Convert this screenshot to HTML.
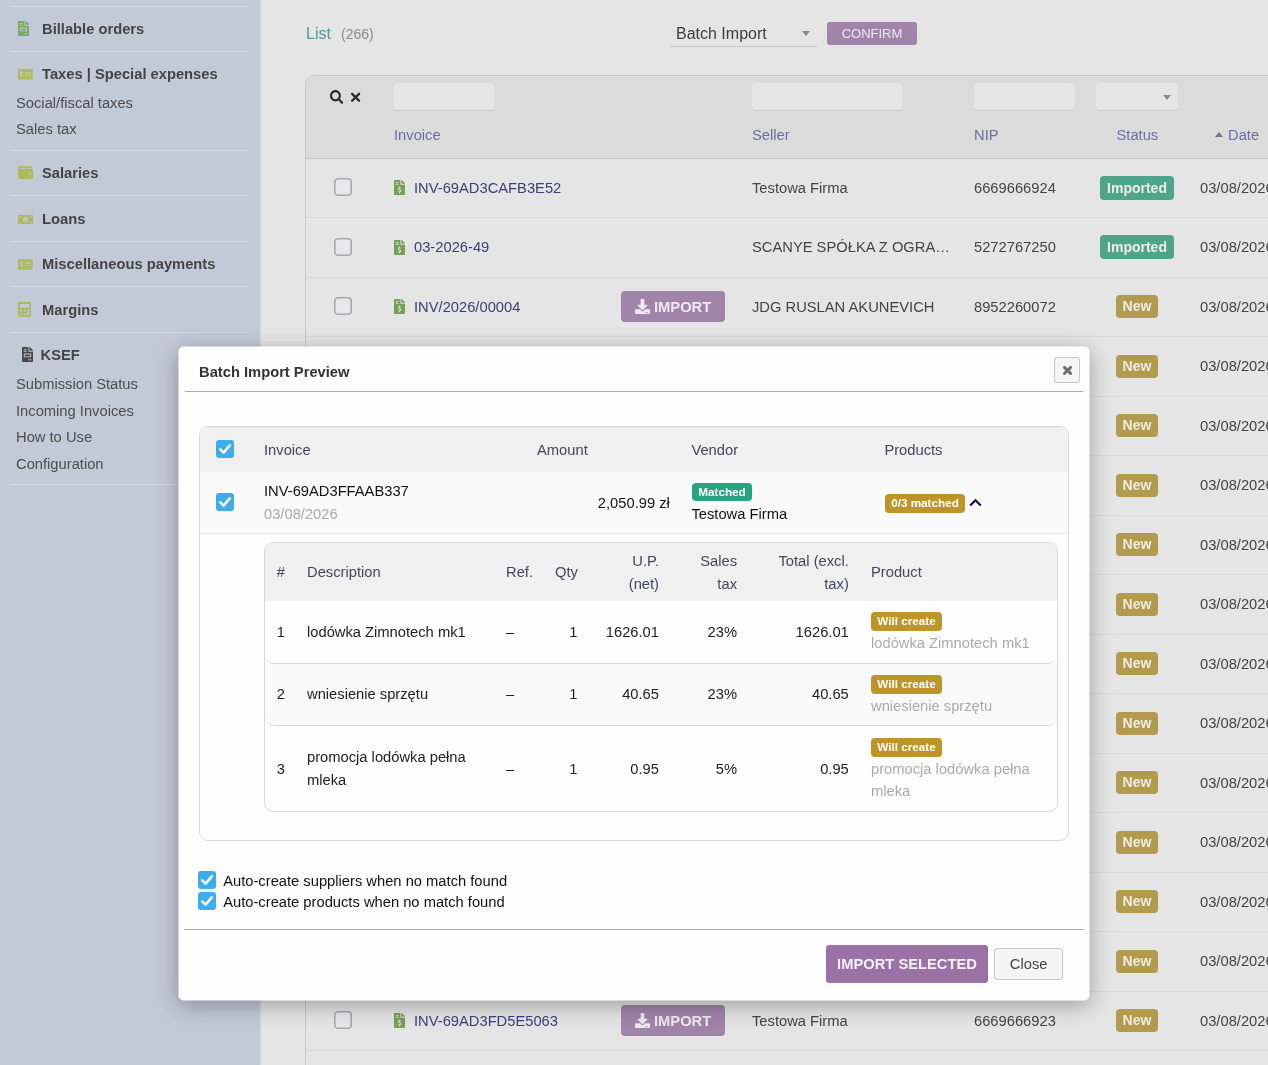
<!DOCTYPE html>
<html>
<head>
<meta charset="utf-8">
<title>Batch Import Preview</title>
<style>
*{box-sizing:border-box;margin:0;padding:0}
html,body{width:1268px;height:1065px;overflow:hidden}
body{font-family:"Liberation Sans",sans-serif;font-size:14.72px;color:#444;background:#e5e5e5;position:relative}
.abs{position:absolute}
#wrap{position:absolute;left:0;top:0;width:1268px;height:1065px;overflow:hidden;will-change:transform}
#side{position:absolute;left:0;top:0;width:260px;height:1065px;background:#c3cad7;box-shadow:1px 0 2px rgba(0,0,0,.08)}
#side .hr{position:absolute;left:10px;width:238px;height:1px;background:#d6d8dc}
#side .h{position:absolute;left:42px;font-weight:bold;color:#444;line-height:20px;white-space:nowrap}
#side .s{position:absolute;left:16px;color:#4d4d4d;line-height:20px;white-space:nowrap}
.t{position:absolute;white-space:nowrap;line-height:20px}
#tbl{position:absolute;left:305px;top:75px;width:1000px;height:1000px;border:1px solid #c9c9c9;border-radius:9px 0 0 0;background:#e5e5e5;overflow:hidden}
#thead{position:absolute;left:0;top:0;width:100%;height:83px;background:#dbdbdb;border-bottom:1px solid #c6c6c6}
.fin{position:absolute;top:7px;height:27px;background:#e5e5e5;border-radius:4px;box-shadow:0 1px 0 rgba(0,0,0,.06)}
.row{position:absolute;left:0;width:100%;height:59.5px;border-bottom:1px solid #dadada}
.cb{position:absolute;left:28px;top:19.5px;width:18px;height:18px}
.lnk{color:#3b4178}
.hl{color:#6c6fa3}
.badge{position:absolute;height:24px;line-height:24px;border-radius:4px;color:#efece6;font-weight:bold;font-size:14px;text-align:center}
.b-imp{background:#4fa58a;left:794px;width:74px}
.b-new{background:#b39b4e;left:810px;width:42px}
.ibtn{position:absolute;left:315px;top:13.5px;width:104px;height:31px;border-radius:4px;background:#a084a9;color:#efeaf1;font-weight:bold;line-height:33px}
/* modal */
#modal{position:absolute;left:179px;top:347px;width:910px;height:653px;color:#222}
#mbg{position:absolute;left:-1px;top:-1px;width:911px;height:654px;background:#fefefe;border-radius:5px;box-shadow:0 5px 22px rgba(0,0,0,.30);transform:translate(.5px,.5px)}
#modal .t{line-height:23px}
.mh{color:#454560}
.ck{position:absolute;width:18px;height:18px;border-radius:3px;background:#3daee9}
.ck svg{position:absolute;left:0;top:0}
.mb{position:absolute;border-radius:4px;color:#fff;font-weight:bold;font-size:11.73px;text-align:center;white-space:nowrap}
.wc{width:71px;height:19px;line-height:17.500px;background:#bd9529}
.nrow{position:absolute;left:0;width:792px;border-bottom:1px solid #d8d8d8;border-radius:0 0 9px 9px}
.g{color:#aaa}
.r{text-align:right}
</style>
</head>
<body>
<div id="wrap">
<div id="side">
<div class="hr" style="top:6px"></div>
<div class="hr" style="top:51px"></div>
<div class="hr" style="top:150px"></div>
<div class="hr" style="top:195px"></div>
<div class="hr" style="top:241px"></div>
<div class="hr" style="top:286px"></div>
<div class="hr" style="top:332px"></div>
<div class="hr" style="top:484px"></div>
<svg class="abs" style="left:18px;top:21px" width="11" height="15" viewBox="0 0 384 512" fill="#7ba862" preserveAspectRatio="none"><path fill-rule="evenodd" d="M288 256H96v64h192v-64zm89-151L279.1 7c-4.500-4.500-10.600-7-17-7H256v128h128v-6.100c0-6.300-2.500-12.400-7-16.900zm-153 31V0H24C10.700 0 0 10.700 0 24v464c0 13.300 10.700 24 24 24h336c13.300 0 24-10.700 24-24V160H248c-13.200 0-24-10.800-24-24zM64 72c0-4.420 3.580-8 8-8h80c4.420 0 8 3.580 8 8v16c0 4.420-3.580 8-8 8H72c-4.420 0-8-3.580-8-8V72zm0 64c0-4.420 3.580-8 8-8h80c4.420 0 8 3.580 8 8v16c0 4.420-3.580 8-8 8H72c-4.420 0-8-3.580-8-8v-16zm256 304c0 4.420-3.580 8-8 8h-80c-4.420 0-8-3.580-8-8v-16c0-4.420 3.580-8 8-8h80c4.420 0 8 3.580 8 8v16zm0-200v96c0 8.840-7.160 16-16 16H80c-8.840 0-16-7.160-16-16v-96c0-8.840 7.160-16 16-16h224c8.840 0 16 7.160 16 16z"/></svg>
<div class="h" style="top:19px">Billable orders</div>
<svg class="abs" style="left:18px;top:69.4px" width="14.7" height="10.6" viewBox="0 64 640 384" fill="#afb95e" preserveAspectRatio="none"><rect x="0" y="64" width="640" height="384" rx="26" ry="26"/><g fill="#c7cdd6"><rect x="292" y="196" width="274" height="34"/><rect x="292" y="280" width="118" height="32"/><rect x="466" y="280" width="100" height="32"/><path d="M131 140h28v26c18 3 33 11 44 22l-20 22c-9-9-21-14-35-14-16 0-26 7-26 17 0 27 88 13 88 72 0 27-20 45-51 50v27h-28v-27c-24-3-42-12-56-27l21-22c12 12 27 19 46 19 18 0 30-7 30-19 0-30-88-15-88-72 0-26 19-43 47-48z"/></g></svg>
<div class="h" style="top:64px">Taxes | Special expenses</div>
<div class="s" style="top:93px">Social/fiscal taxes</div>
<div class="s" style="top:119px">Sales tax</div>
<svg class="abs" style="left:18px;top:166px" width="15" height="13" viewBox="0 32 512 448" fill="#afb95e" preserveAspectRatio="none"><path fill-rule="evenodd" d="M461.2 128H80c-8.840 0-16-7.160-16-16s7.160-16 16-16h384c8.840 0 16-7.160 16-16 0-26.510-21.490-48-48-48H64C28.650 32 0 60.650 0 96v320c0 35.350 28.650 64 64 64h397.200c28.020 0 50.800-21.530 50.800-48V176c0-26.470-22.780-48-50.800-48zM416 336c-17.670 0-32-14.330-32-32s14.330-32 32-32 32 14.330 32 32-14.330 32-32 32z"/></svg>
<div class="h" style="top:163px">Salaries</div>
<svg class="abs" style="left:18px;top:214.8px" width="15" height="9.3" viewBox="0 64 640 384" fill="#afb95e" preserveAspectRatio="none"><path fill-rule="evenodd" d="M24 64h592a24 24 0 0 1 24 24v336a24 24 0 0 1-24 24H24a24 24 0 0 1-24-24V88a24 24 0 0 1 24-24zM48 112v64a64 64 0 0 0 64-64zM592 112h-64a64 64 0 0 0 64 64zM48 400h64a64 64 0 0 0-64-64zM592 400v-64a64 64 0 0 0-64 64zM320 148a112 108 0 1 0 .1 0zM300 200h36v96h20v24h-72v-24h20v-60h-16z"/></svg>
<div class="h" style="top:209px">Loans</div>
<svg class="abs" style="left:18px;top:259.3px" width="14.7" height="10.7" viewBox="0 64 640 384" fill="#afb95e" preserveAspectRatio="none"><rect x="0" y="64" width="640" height="384" rx="26" ry="26"/><g fill="#c7cdd6"><rect x="292" y="196" width="274" height="34"/><rect x="292" y="280" width="118" height="32"/><rect x="466" y="280" width="100" height="32"/><path d="M131 140h28v26c18 3 33 11 44 22l-20 22c-9-9-21-14-35-14-16 0-26 7-26 17 0 27 88 13 88 72 0 27-20 45-51 50v27h-28v-27c-24-3-42-12-56-27l21-22c12 12 27 19 46 19 18 0 30-7 30-19 0-30-88-15-88-72 0-26 19-43 47-48z"/></g></svg>
<div class="h" style="top:254px">Miscellaneous payments</div>
<svg class="abs" style="left:18px;top:302px" width="13" height="15" viewBox="0 0 448 512" fill="#afb95e" preserveAspectRatio="none"><path fill-rule="evenodd" d="M400 0H48C22.400 0 0 22.400 0 48v416c0 25.600 22.400 48 48 48h352c25.600 0 48-22.400 48-48V48c0-25.600-22.400-48-48-48zM128 435.200c0 6.400-6.400 12.800-12.800 12.800H76.800c-6.400 0-12.800-6.400-12.800-12.800v-38.400c0-6.400 6.400-12.800 12.800-12.800h38.400c6.400 0 12.800 6.400 12.800 12.800v38.400zm0-128c0 6.400-6.400 12.800-12.800 12.800H76.800c-6.400 0-12.800-6.400-12.800-12.800v-38.400c0-6.400 6.400-12.800 12.800-12.800h38.400c6.400 0 12.800 6.400 12.800 12.800v38.400zm128 128c0 6.400-6.400 12.800-12.800 12.800h-38.400c-6.400 0-12.800-6.400-12.800-12.800v-38.400c0-6.400 6.400-12.800 12.800-12.800h38.400c6.400 0 12.800 6.400 12.800 12.800v38.400zm0-128c0 6.400-6.400 12.800-12.800 12.800h-38.400c-6.400 0-12.800-6.400-12.800-12.800v-38.400c0-6.400 6.400-12.800 12.800-12.800h38.400c6.400 0 12.800 6.400 12.800 12.800v38.400zm128 128c0 6.400-6.400 12.800-12.800 12.800h-38.400c-6.400 0-12.800-6.400-12.800-12.800V268.800c0-6.400 6.400-12.800 12.800-12.800h38.400c6.400 0 12.800 6.400 12.800 12.800v166.400zm0-256c0 6.400-6.400 12.800-12.800 12.800H76.800c-6.400 0-12.800-6.400-12.800-12.800V76.800C64 70.400 70.400 64 76.800 64h294.400c6.400 0 12.800 6.400 12.800 12.800v102.400z"/></svg>
<div class="h" style="top:300px">Margins</div>
<svg class="abs" style="left:22px;top:347px" width="11" height="15" viewBox="0 0 384 512" fill="#4a4a4a" preserveAspectRatio="none"><path fill-rule="evenodd" d="M288 256H96v64h192v-64zm89-151L279.1 7c-4.500-4.500-10.600-7-17-7H256v128h128v-6.100c0-6.300-2.500-12.400-7-16.900zm-153 31V0H24C10.700 0 0 10.700 0 24v464c0 13.300 10.700 24 24 24h336c13.300 0 24-10.700 24-24V160H248c-13.200 0-24-10.800-24-24zM64 72c0-4.420 3.580-8 8-8h80c4.420 0 8 3.580 8 8v16c0 4.420-3.580 8-8 8H72c-4.420 0-8-3.580-8-8V72zm0 64c0-4.420 3.580-8 8-8h80c4.420 0 8 3.580 8 8v16c0 4.420-3.580 8-8 8H72c-4.420 0-8-3.580-8-8v-16zm256 304c0 4.420-3.580 8-8 8h-80c-4.420 0-8-3.580-8-8v-16c0-4.420 3.580-8 8-8h80c4.420 0 8 3.580 8 8v16zm0-200v96c0 8.840-7.160 16-16 16H80c-8.840 0-16-7.160-16-16v-96c0-8.840 7.160-16 16-16h224c8.840 0 16 7.160 16 16z"/></svg>
<div class="h" style="top:345px;left:40.5px">KSEF</div>
<div class="s" style="top:374px">Submission Status</div>
<div class="s" style="top:401px">Incoming Invoices</div>
<div class="s" style="top:427px">How to Use</div>
<div class="s" style="top:454px">Configuration</div>
</div>
<div class="t" style="left:306px;top:24px;font-size:16px;color:#4f9a9e">List</div>
<div class="t" style="left:341px;top:24px;font-size:14px;color:#8a8a8a">(266)</div>
<div class="abs" style="left:670px;top:20px;width:147px;height:27px;border-bottom:1px solid #c9c9c9"></div>
<div class="t" style="left:676px;top:24px;font-size:16px;color:#3c3c3c">Batch Import</div>
<div class="abs" style="left:802px;top:31px;width:0;height:0;border-left:4px solid transparent;border-right:4px solid transparent;border-top:5px solid #8a8a8a"></div>
<div class="abs" style="left:827px;top:22px;width:90px;height:23px;border-radius:3px;background:#a084a9;color:#ece6ee;font-size:13px;line-height:23px;text-align:center">CONFIRM</div>
<div id="tbl"><div id="thead">
<svg class="abs" style="left:23.69999999999999px;top:13.799999999999997px" width="13.4" height="14" viewBox="0 0 512 512" fill="#2b2b2b" preserveAspectRatio="none"><path d="M505 442.700L405.300 343c-4.500-4.500-10.600-7-17-7H372c27.600-35.300 44-79.700 44-128C416 93.100 322.900 0 208 0S0 93.100 0 208s93.100 208 208 208c48.300 0 92.700-16.400 128-44v16.300c0 6.400 2.500 12.500 7 17l99.700 99.700c9.400 9.400 24.600 9.400 33.900 0l28.300-28.300c9.400-9.400 9.400-24.600.1-34zM208 336c-70.700 0-128-57.200-128-128 0-70.700 57.200-128 128-128 70.700 0 128 57.200 128 128 0 70.700-57.200 128-128 128z"/></svg>
<svg class="abs" style="left:44px;top:15px" width="12" height="12" viewBox="0 0 12 12"><path d="M2.150 2.850L9.050 9.750M9.050 2.850L2.150 9.750" fill="none" stroke="#2b2b2b" stroke-width="2.400" stroke-linecap="round"/></svg>
<div class="fin" style="left:88px;width:100px"></div>
<div class="fin" style="left:446px;width:150px"></div>
<div class="fin" style="left:668px;width:100.5px"></div>
<div class="fin" style="left:790px;width:82px"></div>
<div class="abs" style="left:857px;top:19px;width:0;height:0;border-left:4px solid transparent;border-right:4px solid transparent;border-top:5px solid #8a8a8a"></div>
<div class="t hl" style="left:88px;top:49px">Invoice</div>
<div class="t hl" style="left:446px;top:49px">Seller</div>
<div class="t hl" style="left:668px;top:49px">NIP</div>
<div class="t hl" style="left:810.5px;top:49px">Status</div>
<div class="t hl" style="left:922px;top:49px">Date</div>
<div class="abs" style="left:909px;top:56px;width:0;height:0;border-left:4.500px solid transparent;border-right:4.500px solid transparent;border-bottom:5.500px solid #74748f"></div>
</div>
<div class="row" style="top:82.5px"><svg class="cb" viewBox="0 0 18 18"><rect x="0.800" y="0.800" width="16.400" height="16.400" rx="3.300" fill="#e8e8e8" stroke="#a7a7b5" stroke-width="1.600"/></svg><svg class="abs" style="left:88px;top:21.5px" width="11" height="15" viewBox="0 0 384 512" fill="#769f58" preserveAspectRatio="none"><path fill-rule="evenodd" d="M377 105L279.100 7c-4.500-4.500-10.600-7-17-7H256v128h128v-6.100c0-6.300-2.500-12.400-7-16.900zM224 136V0H24C10.700 0 0 10.700 0 24v464c0 13.300 10.700 24 24 24h336c13.300 0 24-10.700 24-24V160H248c-13.200 0-24-10.800-24-24zM64 72c0-4.420 3.580-8 8-8h80c4.420 0 8 3.580 8 8v16c0 4.420-3.580 8-8 8H72c-4.420 0-8-3.580-8-8V72zm0 80v-16c0-4.420 3.580-8 8-8h80c4.420 0 8 3.580 8 8v16c0 4.420-3.580 8-8 8H72c-4.420 0-8-3.580-8-8zm144 263.880V440c0 4.420-3.580 8-8 8h-16c-4.420 0-8-3.580-8-8v-24.290c-11.290-.580-22.270-4.520-31.370-11.350-3.900-2.930-4.100-8.770-.570-12.140l11.750-11.210c2.770-2.640 6.890-2.760 10.130-.730 3.870 2.420 8.260 3.720 12.820 3.720h28.110c6.500 0 11.800-5.920 11.800-13.190 0-5.950-3.610-11.190-8.770-12.730l-45-13.500c-18.590-5.580-31.580-23.420-31.580-43.390 0-24.520 19.050-44.440 42.670-45.070V232c0-4.420 3.580-8 8-8h16c4.420 0 8 3.580 8 8v24.290c11.290.580 22.270 4.510 31.370 11.350 3.900 2.930 4.100 8.770.570 12.140l-11.750 11.210c-2.770 2.640-6.890 2.760-10.130.730-3.870-2.430-8.260-3.720-12.820-3.720h-28.110c-6.500 0-11.800 5.920-11.800 13.190 0 5.950 3.610 11.190 8.770 12.730l45 13.500c18.590 5.580 31.580 23.420 31.580 43.390 0 24.530-19.050 44.440-42.670 45.070z"/></svg><div class="t lnk" style="left:108px;top:19px">INV-69AD3CAFB3E52</div><div class="t" style="left:446px;top:19px">Testowa Firma</div><div class="t" style="left:668px;top:19px">6669666924</div><div class="badge b-imp" style="top:17.250px">Imported</div><div class="t" style="left:894px;top:19px">03/08/2026</div></div>
<div class="row" style="top:142.0px"><svg class="cb" viewBox="0 0 18 18"><rect x="0.800" y="0.800" width="16.400" height="16.400" rx="3.300" fill="#e8e8e8" stroke="#a7a7b5" stroke-width="1.600"/></svg><svg class="abs" style="left:88px;top:21.5px" width="11" height="15" viewBox="0 0 384 512" fill="#769f58" preserveAspectRatio="none"><path fill-rule="evenodd" d="M377 105L279.100 7c-4.500-4.500-10.600-7-17-7H256v128h128v-6.100c0-6.300-2.500-12.400-7-16.900zM224 136V0H24C10.700 0 0 10.700 0 24v464c0 13.300 10.700 24 24 24h336c13.300 0 24-10.700 24-24V160H248c-13.200 0-24-10.800-24-24zM64 72c0-4.420 3.580-8 8-8h80c4.420 0 8 3.580 8 8v16c0 4.420-3.580 8-8 8H72c-4.420 0-8-3.580-8-8V72zm0 80v-16c0-4.420 3.580-8 8-8h80c4.420 0 8 3.580 8 8v16c0 4.420-3.580 8-8 8H72c-4.420 0-8-3.580-8-8zm144 263.880V440c0 4.420-3.580 8-8 8h-16c-4.420 0-8-3.580-8-8v-24.290c-11.290-.580-22.270-4.520-31.370-11.350-3.900-2.930-4.100-8.770-.570-12.140l11.750-11.210c2.770-2.640 6.890-2.760 10.130-.730 3.870 2.420 8.260 3.720 12.820 3.720h28.110c6.500 0 11.800-5.920 11.800-13.190 0-5.950-3.610-11.190-8.770-12.730l-45-13.500c-18.590-5.580-31.580-23.420-31.580-43.390 0-24.520 19.050-44.440 42.670-45.070V232c0-4.420 3.580-8 8-8h16c4.420 0 8 3.580 8 8v24.290c11.290.580 22.270 4.510 31.370 11.350 3.900 2.930 4.100 8.770.570 12.140l-11.750 11.210c-2.770 2.640-6.890 2.760-10.130.730-3.870-2.430-8.260-3.720-12.820-3.720h-28.110c-6.500 0-11.800 5.920-11.800 13.190 0 5.950 3.610 11.190 8.770 12.730l45 13.500c18.590 5.580 31.580 23.420 31.580 43.390 0 24.530-19.050 44.440-42.670 45.070z"/></svg><div class="t lnk" style="left:108px;top:19px">03-2026-49</div><div class="t" style="left:446px;top:19px">SCANYE SPÓŁKA Z OGRA…</div><div class="t" style="left:668px;top:19px">5272767250</div><div class="badge b-imp" style="top:17.250px">Imported</div><div class="t" style="left:894px;top:19px">03/08/2026</div></div>
<div class="row" style="top:201.5px"><svg class="cb" viewBox="0 0 18 18"><rect x="0.800" y="0.800" width="16.400" height="16.400" rx="3.300" fill="#e8e8e8" stroke="#a7a7b5" stroke-width="1.600"/></svg><svg class="abs" style="left:88px;top:21.5px" width="11" height="15" viewBox="0 0 384 512" fill="#769f58" preserveAspectRatio="none"><path fill-rule="evenodd" d="M377 105L279.100 7c-4.500-4.500-10.600-7-17-7H256v128h128v-6.100c0-6.300-2.500-12.400-7-16.900zM224 136V0H24C10.700 0 0 10.700 0 24v464c0 13.300 10.700 24 24 24h336c13.300 0 24-10.700 24-24V160H248c-13.200 0-24-10.800-24-24zM64 72c0-4.420 3.580-8 8-8h80c4.420 0 8 3.580 8 8v16c0 4.420-3.580 8-8 8H72c-4.420 0-8-3.580-8-8V72zm0 80v-16c0-4.420 3.580-8 8-8h80c4.420 0 8 3.580 8 8v16c0 4.420-3.580 8-8 8H72c-4.420 0-8-3.580-8-8zm144 263.880V440c0 4.420-3.580 8-8 8h-16c-4.420 0-8-3.580-8-8v-24.290c-11.290-.580-22.270-4.520-31.370-11.350-3.900-2.930-4.100-8.770-.570-12.140l11.750-11.210c2.770-2.640 6.890-2.760 10.130-.730 3.870 2.420 8.260 3.720 12.820 3.720h28.110c6.500 0 11.800-5.920 11.800-13.190 0-5.950-3.610-11.190-8.770-12.730l-45-13.500c-18.590-5.580-31.580-23.420-31.580-43.390 0-24.520 19.050-44.440 42.670-45.070V232c0-4.420 3.580-8 8-8h16c4.420 0 8 3.580 8 8v24.290c11.290.580 22.270 4.510 31.370 11.350 3.900 2.930 4.100 8.770.570 12.140l-11.750 11.210c-2.770 2.640-6.890 2.760-10.130.730-3.870-2.430-8.260-3.720-12.820-3.720h-28.110c-6.500 0-11.800 5.920-11.800 13.190 0 5.950 3.610 11.190 8.770 12.730l45 13.500c18.590 5.580 31.580 23.420 31.580 43.390 0 24.530-19.050 44.440-42.670 45.070z"/></svg><div class="t lnk" style="left:108px;top:19px">INV/2026/00004</div><div class="ibtn"><svg class="abs" style="left:13.9px;top:7.8px" width="15" height="15" viewBox="0 0 512 512" fill="#efeaf1" preserveAspectRatio="none"><path d="M216 0h80c13.300 0 24 10.700 24 24v168h87.700c17.800 0 26.700 21.500 14.100 34.100L269.700 378.300c-7.500 7.500-19.800 7.500-27.300 0L90.100 226.100c-12.600-12.600-3.700-34.100 14.100-34.100H192V24c0-13.300 10.700-24 24-24zm296 376v112c0 13.300-10.700 24-24 24H24c-13.300 0-24-10.700-24-24V376c0-13.300 10.700-24 24-24h146.700l49 49c20.100 20.100 52.500 20.100 72.600 0l49-49H488c13.300 0 24 10.700 24 24zm-124 88c0-11-9-20-20-20s-20 9-20 20 9 20 20 20 20-9 20-20zm64 0c0-11-9-20-20-20s-20 9-20 20 9 20 20 20 20-9 20-20z"/></svg><span style="position:absolute;left:33px">IMPORT</span></div><div class="t" style="left:446px;top:19px">JDG RUSLAN AKUNEVICH</div><div class="t" style="left:668px;top:19px">8952260072</div><div class="badge b-new" style="top:17.750px;height:23px;line-height:23px">New</div><div class="t" style="left:894px;top:19px">03/08/2026</div></div>
<div class="row" style="top:261.0px"><svg class="cb" viewBox="0 0 18 18"><rect x="0.800" y="0.800" width="16.400" height="16.400" rx="3.300" fill="#e8e8e8" stroke="#a7a7b5" stroke-width="1.600"/></svg><svg class="abs" style="left:88px;top:21.5px" width="11" height="15" viewBox="0 0 384 512" fill="#769f58" preserveAspectRatio="none"><path fill-rule="evenodd" d="M377 105L279.100 7c-4.500-4.500-10.600-7-17-7H256v128h128v-6.100c0-6.300-2.500-12.400-7-16.900zM224 136V0H24C10.700 0 0 10.700 0 24v464c0 13.300 10.700 24 24 24h336c13.300 0 24-10.700 24-24V160H248c-13.200 0-24-10.800-24-24zM64 72c0-4.420 3.580-8 8-8h80c4.420 0 8 3.580 8 8v16c0 4.420-3.580 8-8 8H72c-4.420 0-8-3.580-8-8V72zm0 80v-16c0-4.420 3.580-8 8-8h80c4.420 0 8 3.580 8 8v16c0 4.420-3.580 8-8 8H72c-4.420 0-8-3.580-8-8zm144 263.880V440c0 4.420-3.580 8-8 8h-16c-4.420 0-8-3.580-8-8v-24.290c-11.290-.580-22.270-4.520-31.370-11.350-3.900-2.930-4.100-8.770-.570-12.140l11.750-11.210c2.770-2.640 6.890-2.760 10.130-.730 3.870 2.420 8.260 3.720 12.820 3.720h28.110c6.500 0 11.800-5.920 11.800-13.190 0-5.950-3.610-11.190-8.770-12.730l-45-13.500c-18.590-5.580-31.580-23.420-31.580-43.390 0-24.520 19.050-44.440 42.670-45.070V232c0-4.420 3.580-8 8-8h16c4.420 0 8 3.580 8 8v24.290c11.290.580 22.270 4.510 31.370 11.350 3.900 2.930 4.100 8.770.570 12.140l-11.750 11.210c-2.770 2.640-6.890 2.760-10.130.730-3.870-2.430-8.260-3.720-12.820-3.720h-28.110c-6.500 0-11.800 5.920-11.800 13.190 0 5.950 3.610 11.190 8.770 12.730l45 13.500c18.590 5.580 31.580 23.420 31.580 43.390 0 24.530-19.050 44.440-42.670 45.070z"/></svg><div class="t lnk" style="left:108px;top:19px">INV-69AD3FFAAB337</div><div class="ibtn"><svg class="abs" style="left:13.9px;top:7.8px" width="15" height="15" viewBox="0 0 512 512" fill="#efeaf1" preserveAspectRatio="none"><path d="M216 0h80c13.300 0 24 10.700 24 24v168h87.700c17.800 0 26.700 21.500 14.100 34.100L269.700 378.300c-7.500 7.500-19.800 7.500-27.300 0L90.100 226.100c-12.600-12.600-3.700-34.100 14.100-34.100H192V24c0-13.300 10.700-24 24-24zm296 376v112c0 13.300-10.700 24-24 24H24c-13.300 0-24-10.700-24-24V376c0-13.300 10.700-24 24-24h146.700l49 49c20.100 20.100 52.500 20.100 72.600 0l49-49H488c13.300 0 24 10.700 24 24zm-124 88c0-11-9-20-20-20s-20 9-20 20 9 20 20 20 20-9 20-20zm64 0c0-11-9-20-20-20s-20 9-20 20 9 20 20 20 20-9 20-20z"/></svg><span style="position:absolute;left:33px">IMPORT</span></div><div class="t" style="left:446px;top:19px">Testowa Firma</div><div class="t" style="left:668px;top:19px">6669666923</div><div class="badge b-new" style="top:17.750px;height:23px;line-height:23px">New</div><div class="t" style="left:894px;top:19px">03/08/2026</div></div>
<div class="row" style="top:320.5px"><svg class="cb" viewBox="0 0 18 18"><rect x="0.800" y="0.800" width="16.400" height="16.400" rx="3.300" fill="#e8e8e8" stroke="#a7a7b5" stroke-width="1.600"/></svg><svg class="abs" style="left:88px;top:21.5px" width="11" height="15" viewBox="0 0 384 512" fill="#769f58" preserveAspectRatio="none"><path fill-rule="evenodd" d="M377 105L279.100 7c-4.500-4.500-10.600-7-17-7H256v128h128v-6.100c0-6.300-2.500-12.400-7-16.900zM224 136V0H24C10.700 0 0 10.700 0 24v464c0 13.300 10.700 24 24 24h336c13.300 0 24-10.700 24-24V160H248c-13.200 0-24-10.800-24-24zM64 72c0-4.420 3.580-8 8-8h80c4.420 0 8 3.580 8 8v16c0 4.420-3.580 8-8 8H72c-4.420 0-8-3.580-8-8V72zm0 80v-16c0-4.420 3.580-8 8-8h80c4.420 0 8 3.580 8 8v16c0 4.420-3.580 8-8 8H72c-4.420 0-8-3.580-8-8zm144 263.880V440c0 4.420-3.580 8-8 8h-16c-4.420 0-8-3.580-8-8v-24.290c-11.290-.580-22.270-4.520-31.370-11.350-3.900-2.930-4.100-8.770-.570-12.140l11.750-11.210c2.770-2.640 6.890-2.760 10.130-.730 3.870 2.420 8.260 3.720 12.820 3.720h28.110c6.500 0 11.800-5.920 11.800-13.190 0-5.950-3.610-11.190-8.770-12.730l-45-13.500c-18.590-5.580-31.580-23.420-31.580-43.390 0-24.520 19.050-44.440 42.670-45.070V232c0-4.420 3.580-8 8-8h16c4.420 0 8 3.580 8 8v24.290c11.290.580 22.270 4.510 31.370 11.350 3.900 2.930 4.100 8.770.570 12.140l-11.750 11.210c-2.770 2.640-6.890 2.760-10.130.730-3.870-2.430-8.260-3.720-12.820-3.720h-28.110c-6.500 0-11.800 5.920-11.800 13.190 0 5.950 3.610 11.190 8.770 12.730l45 13.500c18.590 5.580 31.580 23.420 31.580 43.390 0 24.530-19.050 44.440-42.670 45.070z"/></svg><div class="t lnk" style="left:108px;top:19px">INV-69AD3FFAAB337</div><div class="ibtn"><svg class="abs" style="left:13.9px;top:7.8px" width="15" height="15" viewBox="0 0 512 512" fill="#efeaf1" preserveAspectRatio="none"><path d="M216 0h80c13.300 0 24 10.700 24 24v168h87.700c17.800 0 26.700 21.500 14.100 34.100L269.700 378.300c-7.500 7.500-19.800 7.500-27.300 0L90.100 226.100c-12.600-12.600-3.700-34.100 14.100-34.100H192V24c0-13.300 10.700-24 24-24zm296 376v112c0 13.300-10.700 24-24 24H24c-13.300 0-24-10.700-24-24V376c0-13.300 10.700-24 24-24h146.700l49 49c20.100 20.100 52.500 20.100 72.600 0l49-49H488c13.300 0 24 10.700 24 24zm-124 88c0-11-9-20-20-20s-20 9-20 20 9 20 20 20 20-9 20-20zm64 0c0-11-9-20-20-20s-20 9-20 20 9 20 20 20 20-9 20-20z"/></svg><span style="position:absolute;left:33px">IMPORT</span></div><div class="t" style="left:446px;top:19px">Testowa Firma</div><div class="t" style="left:668px;top:19px">6669666923</div><div class="badge b-new" style="top:17.750px;height:23px;line-height:23px">New</div><div class="t" style="left:894px;top:19px">03/08/2026</div></div>
<div class="row" style="top:380.0px"><svg class="cb" viewBox="0 0 18 18"><rect x="0.800" y="0.800" width="16.400" height="16.400" rx="3.300" fill="#e8e8e8" stroke="#a7a7b5" stroke-width="1.600"/></svg><svg class="abs" style="left:88px;top:21.5px" width="11" height="15" viewBox="0 0 384 512" fill="#769f58" preserveAspectRatio="none"><path fill-rule="evenodd" d="M377 105L279.100 7c-4.500-4.500-10.600-7-17-7H256v128h128v-6.100c0-6.300-2.500-12.400-7-16.900zM224 136V0H24C10.700 0 0 10.700 0 24v464c0 13.300 10.700 24 24 24h336c13.300 0 24-10.700 24-24V160H248c-13.200 0-24-10.800-24-24zM64 72c0-4.420 3.580-8 8-8h80c4.420 0 8 3.580 8 8v16c0 4.420-3.580 8-8 8H72c-4.420 0-8-3.580-8-8V72zm0 80v-16c0-4.420 3.580-8 8-8h80c4.420 0 8 3.580 8 8v16c0 4.420-3.580 8-8 8H72c-4.420 0-8-3.580-8-8zm144 263.880V440c0 4.420-3.580 8-8 8h-16c-4.420 0-8-3.580-8-8v-24.290c-11.290-.580-22.270-4.520-31.370-11.350-3.900-2.930-4.100-8.770-.570-12.140l11.750-11.210c2.770-2.640 6.890-2.760 10.130-.730 3.870 2.420 8.260 3.720 12.820 3.720h28.110c6.500 0 11.800-5.920 11.800-13.190 0-5.950-3.610-11.190-8.770-12.730l-45-13.500c-18.590-5.580-31.580-23.420-31.580-43.390 0-24.520 19.050-44.440 42.670-45.070V232c0-4.420 3.580-8 8-8h16c4.420 0 8 3.580 8 8v24.290c11.290.580 22.270 4.510 31.370 11.350 3.900 2.930 4.100 8.770.570 12.140l-11.750 11.210c-2.770 2.640-6.890 2.760-10.130.730-3.870-2.430-8.260-3.720-12.820-3.720h-28.110c-6.500 0-11.800 5.920-11.800 13.190 0 5.950 3.610 11.190 8.770 12.730l45 13.500c18.590 5.580 31.580 23.420 31.580 43.390 0 24.530-19.050 44.440-42.670 45.070z"/></svg><div class="t lnk" style="left:108px;top:19px">INV-69AD3FFAAB337</div><div class="ibtn"><svg class="abs" style="left:13.9px;top:7.8px" width="15" height="15" viewBox="0 0 512 512" fill="#efeaf1" preserveAspectRatio="none"><path d="M216 0h80c13.300 0 24 10.700 24 24v168h87.700c17.800 0 26.700 21.500 14.100 34.100L269.700 378.300c-7.500 7.500-19.800 7.500-27.300 0L90.100 226.100c-12.600-12.600-3.700-34.100 14.100-34.100H192V24c0-13.300 10.700-24 24-24zm296 376v112c0 13.300-10.700 24-24 24H24c-13.300 0-24-10.700-24-24V376c0-13.300 10.700-24 24-24h146.700l49 49c20.100 20.100 52.500 20.100 72.600 0l49-49H488c13.300 0 24 10.700 24 24zm-124 88c0-11-9-20-20-20s-20 9-20 20 9 20 20 20 20-9 20-20zm64 0c0-11-9-20-20-20s-20 9-20 20 9 20 20 20 20-9 20-20z"/></svg><span style="position:absolute;left:33px">IMPORT</span></div><div class="t" style="left:446px;top:19px">Testowa Firma</div><div class="t" style="left:668px;top:19px">6669666923</div><div class="badge b-new" style="top:17.750px;height:23px;line-height:23px">New</div><div class="t" style="left:894px;top:19px">03/08/2026</div></div>
<div class="row" style="top:439.5px"><svg class="cb" viewBox="0 0 18 18"><rect x="0.800" y="0.800" width="16.400" height="16.400" rx="3.300" fill="#e8e8e8" stroke="#a7a7b5" stroke-width="1.600"/></svg><svg class="abs" style="left:88px;top:21.5px" width="11" height="15" viewBox="0 0 384 512" fill="#769f58" preserveAspectRatio="none"><path fill-rule="evenodd" d="M377 105L279.100 7c-4.500-4.500-10.600-7-17-7H256v128h128v-6.100c0-6.300-2.500-12.400-7-16.900zM224 136V0H24C10.700 0 0 10.700 0 24v464c0 13.300 10.700 24 24 24h336c13.300 0 24-10.700 24-24V160H248c-13.200 0-24-10.800-24-24zM64 72c0-4.420 3.580-8 8-8h80c4.420 0 8 3.580 8 8v16c0 4.420-3.580 8-8 8H72c-4.420 0-8-3.580-8-8V72zm0 80v-16c0-4.420 3.580-8 8-8h80c4.420 0 8 3.580 8 8v16c0 4.420-3.580 8-8 8H72c-4.420 0-8-3.580-8-8zm144 263.880V440c0 4.420-3.580 8-8 8h-16c-4.420 0-8-3.580-8-8v-24.290c-11.290-.580-22.270-4.520-31.370-11.350-3.900-2.930-4.100-8.770-.570-12.140l11.750-11.210c2.770-2.640 6.890-2.760 10.130-.730 3.870 2.420 8.260 3.720 12.820 3.720h28.110c6.500 0 11.800-5.920 11.800-13.190 0-5.950-3.610-11.190-8.770-12.730l-45-13.500c-18.590-5.580-31.580-23.420-31.580-43.390 0-24.520 19.050-44.440 42.670-45.070V232c0-4.420 3.580-8 8-8h16c4.420 0 8 3.580 8 8v24.290c11.290.580 22.270 4.510 31.370 11.350 3.900 2.930 4.100 8.770.570 12.140l-11.750 11.210c-2.770 2.640-6.890 2.760-10.130.730-3.870-2.430-8.260-3.720-12.820-3.720h-28.110c-6.500 0-11.800 5.920-11.800 13.190 0 5.950 3.610 11.190 8.770 12.730l45 13.500c18.590 5.580 31.580 23.420 31.580 43.390 0 24.530-19.050 44.440-42.670 45.070z"/></svg><div class="t lnk" style="left:108px;top:19px">INV-69AD3FFAAB337</div><div class="ibtn"><svg class="abs" style="left:13.9px;top:7.8px" width="15" height="15" viewBox="0 0 512 512" fill="#efeaf1" preserveAspectRatio="none"><path d="M216 0h80c13.300 0 24 10.700 24 24v168h87.700c17.800 0 26.700 21.500 14.100 34.100L269.700 378.300c-7.500 7.500-19.800 7.500-27.300 0L90.100 226.100c-12.600-12.600-3.700-34.100 14.100-34.100H192V24c0-13.300 10.700-24 24-24zm296 376v112c0 13.300-10.700 24-24 24H24c-13.300 0-24-10.700-24-24V376c0-13.300 10.700-24 24-24h146.700l49 49c20.100 20.100 52.500 20.100 72.600 0l49-49H488c13.300 0 24 10.700 24 24zm-124 88c0-11-9-20-20-20s-20 9-20 20 9 20 20 20 20-9 20-20zm64 0c0-11-9-20-20-20s-20 9-20 20 9 20 20 20 20-9 20-20z"/></svg><span style="position:absolute;left:33px">IMPORT</span></div><div class="t" style="left:446px;top:19px">Testowa Firma</div><div class="t" style="left:668px;top:19px">6669666923</div><div class="badge b-new" style="top:17.750px;height:23px;line-height:23px">New</div><div class="t" style="left:894px;top:19px">03/08/2026</div></div>
<div class="row" style="top:499.0px"><svg class="cb" viewBox="0 0 18 18"><rect x="0.800" y="0.800" width="16.400" height="16.400" rx="3.300" fill="#e8e8e8" stroke="#a7a7b5" stroke-width="1.600"/></svg><svg class="abs" style="left:88px;top:21.5px" width="11" height="15" viewBox="0 0 384 512" fill="#769f58" preserveAspectRatio="none"><path fill-rule="evenodd" d="M377 105L279.100 7c-4.500-4.500-10.600-7-17-7H256v128h128v-6.100c0-6.300-2.500-12.400-7-16.900zM224 136V0H24C10.700 0 0 10.700 0 24v464c0 13.300 10.700 24 24 24h336c13.300 0 24-10.700 24-24V160H248c-13.200 0-24-10.800-24-24zM64 72c0-4.420 3.580-8 8-8h80c4.420 0 8 3.580 8 8v16c0 4.420-3.580 8-8 8H72c-4.420 0-8-3.580-8-8V72zm0 80v-16c0-4.420 3.580-8 8-8h80c4.420 0 8 3.580 8 8v16c0 4.420-3.580 8-8 8H72c-4.420 0-8-3.580-8-8zm144 263.880V440c0 4.420-3.580 8-8 8h-16c-4.420 0-8-3.580-8-8v-24.290c-11.290-.580-22.270-4.520-31.370-11.350-3.900-2.930-4.100-8.770-.570-12.140l11.750-11.210c2.770-2.640 6.890-2.760 10.130-.730 3.870 2.420 8.260 3.720 12.820 3.720h28.110c6.500 0 11.800-5.920 11.800-13.190 0-5.950-3.610-11.190-8.770-12.730l-45-13.500c-18.590-5.580-31.580-23.420-31.580-43.390 0-24.520 19.050-44.440 42.670-45.070V232c0-4.420 3.580-8 8-8h16c4.420 0 8 3.580 8 8v24.290c11.290.580 22.270 4.510 31.370 11.350 3.900 2.930 4.100 8.770.570 12.140l-11.750 11.210c-2.770 2.640-6.890 2.760-10.130.730-3.870-2.430-8.260-3.720-12.820-3.720h-28.110c-6.500 0-11.800 5.920-11.800 13.190 0 5.950 3.610 11.190 8.770 12.730l45 13.500c18.590 5.580 31.580 23.420 31.580 43.390 0 24.530-19.050 44.440-42.670 45.070z"/></svg><div class="t lnk" style="left:108px;top:19px">INV-69AD3FFAAB337</div><div class="ibtn"><svg class="abs" style="left:13.9px;top:7.8px" width="15" height="15" viewBox="0 0 512 512" fill="#efeaf1" preserveAspectRatio="none"><path d="M216 0h80c13.300 0 24 10.700 24 24v168h87.700c17.800 0 26.700 21.500 14.100 34.100L269.700 378.300c-7.500 7.500-19.800 7.500-27.300 0L90.100 226.100c-12.600-12.600-3.700-34.100 14.100-34.100H192V24c0-13.300 10.700-24 24-24zm296 376v112c0 13.300-10.700 24-24 24H24c-13.300 0-24-10.700-24-24V376c0-13.300 10.700-24 24-24h146.700l49 49c20.100 20.100 52.500 20.100 72.600 0l49-49H488c13.300 0 24 10.700 24 24zm-124 88c0-11-9-20-20-20s-20 9-20 20 9 20 20 20 20-9 20-20zm64 0c0-11-9-20-20-20s-20 9-20 20 9 20 20 20 20-9 20-20z"/></svg><span style="position:absolute;left:33px">IMPORT</span></div><div class="t" style="left:446px;top:19px">Testowa Firma</div><div class="t" style="left:668px;top:19px">6669666923</div><div class="badge b-new" style="top:17.750px;height:23px;line-height:23px">New</div><div class="t" style="left:894px;top:19px">03/08/2026</div></div>
<div class="row" style="top:558.5px"><svg class="cb" viewBox="0 0 18 18"><rect x="0.800" y="0.800" width="16.400" height="16.400" rx="3.300" fill="#e8e8e8" stroke="#a7a7b5" stroke-width="1.600"/></svg><svg class="abs" style="left:88px;top:21.5px" width="11" height="15" viewBox="0 0 384 512" fill="#769f58" preserveAspectRatio="none"><path fill-rule="evenodd" d="M377 105L279.100 7c-4.500-4.500-10.600-7-17-7H256v128h128v-6.100c0-6.300-2.500-12.400-7-16.900zM224 136V0H24C10.700 0 0 10.700 0 24v464c0 13.300 10.700 24 24 24h336c13.300 0 24-10.700 24-24V160H248c-13.200 0-24-10.800-24-24zM64 72c0-4.420 3.580-8 8-8h80c4.420 0 8 3.580 8 8v16c0 4.420-3.580 8-8 8H72c-4.420 0-8-3.580-8-8V72zm0 80v-16c0-4.420 3.580-8 8-8h80c4.420 0 8 3.580 8 8v16c0 4.420-3.580 8-8 8H72c-4.420 0-8-3.580-8-8zm144 263.880V440c0 4.420-3.580 8-8 8h-16c-4.420 0-8-3.580-8-8v-24.290c-11.290-.580-22.270-4.520-31.370-11.350-3.900-2.930-4.100-8.770-.570-12.140l11.750-11.210c2.770-2.640 6.890-2.760 10.130-.730 3.870 2.420 8.260 3.720 12.820 3.720h28.110c6.500 0 11.800-5.920 11.800-13.190 0-5.950-3.610-11.190-8.770-12.730l-45-13.500c-18.590-5.580-31.580-23.420-31.580-43.390 0-24.520 19.050-44.440 42.670-45.070V232c0-4.420 3.580-8 8-8h16c4.420 0 8 3.580 8 8v24.290c11.290.580 22.270 4.510 31.370 11.350 3.900 2.930 4.100 8.770.570 12.140l-11.750 11.210c-2.770 2.640-6.890 2.760-10.130.730-3.870-2.430-8.260-3.720-12.820-3.720h-28.110c-6.500 0-11.800 5.920-11.800 13.190 0 5.950 3.610 11.190 8.770 12.730l45 13.500c18.590 5.580 31.580 23.420 31.580 43.390 0 24.530-19.050 44.440-42.670 45.070z"/></svg><div class="t lnk" style="left:108px;top:19px">INV-69AD3FFAAB337</div><div class="ibtn"><svg class="abs" style="left:13.9px;top:7.8px" width="15" height="15" viewBox="0 0 512 512" fill="#efeaf1" preserveAspectRatio="none"><path d="M216 0h80c13.300 0 24 10.700 24 24v168h87.700c17.800 0 26.700 21.500 14.100 34.100L269.700 378.300c-7.500 7.500-19.800 7.500-27.300 0L90.100 226.100c-12.600-12.600-3.700-34.100 14.100-34.100H192V24c0-13.300 10.700-24 24-24zm296 376v112c0 13.300-10.700 24-24 24H24c-13.300 0-24-10.700-24-24V376c0-13.300 10.700-24 24-24h146.700l49 49c20.100 20.100 52.500 20.100 72.600 0l49-49H488c13.300 0 24 10.700 24 24zm-124 88c0-11-9-20-20-20s-20 9-20 20 9 20 20 20 20-9 20-20zm64 0c0-11-9-20-20-20s-20 9-20 20 9 20 20 20 20-9 20-20z"/></svg><span style="position:absolute;left:33px">IMPORT</span></div><div class="t" style="left:446px;top:19px">Testowa Firma</div><div class="t" style="left:668px;top:19px">6669666923</div><div class="badge b-new" style="top:17.750px;height:23px;line-height:23px">New</div><div class="t" style="left:894px;top:19px">03/08/2026</div></div>
<div class="row" style="top:618.0px"><svg class="cb" viewBox="0 0 18 18"><rect x="0.800" y="0.800" width="16.400" height="16.400" rx="3.300" fill="#e8e8e8" stroke="#a7a7b5" stroke-width="1.600"/></svg><svg class="abs" style="left:88px;top:21.5px" width="11" height="15" viewBox="0 0 384 512" fill="#769f58" preserveAspectRatio="none"><path fill-rule="evenodd" d="M377 105L279.100 7c-4.500-4.500-10.600-7-17-7H256v128h128v-6.100c0-6.300-2.500-12.400-7-16.900zM224 136V0H24C10.700 0 0 10.700 0 24v464c0 13.300 10.700 24 24 24h336c13.300 0 24-10.700 24-24V160H248c-13.200 0-24-10.800-24-24zM64 72c0-4.420 3.580-8 8-8h80c4.420 0 8 3.580 8 8v16c0 4.420-3.580 8-8 8H72c-4.420 0-8-3.580-8-8V72zm0 80v-16c0-4.420 3.580-8 8-8h80c4.420 0 8 3.580 8 8v16c0 4.420-3.580 8-8 8H72c-4.420 0-8-3.580-8-8zm144 263.880V440c0 4.420-3.580 8-8 8h-16c-4.420 0-8-3.580-8-8v-24.290c-11.290-.580-22.270-4.520-31.370-11.350-3.900-2.930-4.100-8.770-.570-12.140l11.750-11.210c2.770-2.640 6.890-2.760 10.130-.730 3.870 2.420 8.260 3.720 12.820 3.720h28.110c6.500 0 11.800-5.920 11.800-13.190 0-5.950-3.610-11.190-8.770-12.730l-45-13.500c-18.590-5.580-31.580-23.420-31.580-43.390 0-24.520 19.050-44.440 42.670-45.070V232c0-4.420 3.580-8 8-8h16c4.420 0 8 3.580 8 8v24.290c11.290.580 22.270 4.510 31.370 11.350 3.900 2.930 4.100 8.770.570 12.140l-11.750 11.210c-2.770 2.640-6.890 2.760-10.130.730-3.870-2.430-8.260-3.720-12.820-3.720h-28.110c-6.500 0-11.800 5.920-11.800 13.190 0 5.950 3.610 11.190 8.770 12.730l45 13.500c18.590 5.580 31.580 23.420 31.580 43.390 0 24.530-19.050 44.440-42.670 45.070z"/></svg><div class="t lnk" style="left:108px;top:19px">INV-69AD3FFAAB337</div><div class="ibtn"><svg class="abs" style="left:13.9px;top:7.8px" width="15" height="15" viewBox="0 0 512 512" fill="#efeaf1" preserveAspectRatio="none"><path d="M216 0h80c13.300 0 24 10.700 24 24v168h87.700c17.800 0 26.700 21.500 14.100 34.100L269.700 378.300c-7.500 7.500-19.800 7.500-27.300 0L90.100 226.100c-12.600-12.600-3.700-34.100 14.100-34.100H192V24c0-13.300 10.700-24 24-24zm296 376v112c0 13.300-10.700 24-24 24H24c-13.300 0-24-10.700-24-24V376c0-13.300 10.700-24 24-24h146.700l49 49c20.100 20.100 52.500 20.100 72.600 0l49-49H488c13.300 0 24 10.700 24 24zm-124 88c0-11-9-20-20-20s-20 9-20 20 9 20 20 20 20-9 20-20zm64 0c0-11-9-20-20-20s-20 9-20 20 9 20 20 20 20-9 20-20z"/></svg><span style="position:absolute;left:33px">IMPORT</span></div><div class="t" style="left:446px;top:19px">Testowa Firma</div><div class="t" style="left:668px;top:19px">6669666923</div><div class="badge b-new" style="top:17.750px;height:23px;line-height:23px">New</div><div class="t" style="left:894px;top:19px">03/08/2026</div></div>
<div class="row" style="top:677.5px"><svg class="cb" viewBox="0 0 18 18"><rect x="0.800" y="0.800" width="16.400" height="16.400" rx="3.300" fill="#e8e8e8" stroke="#a7a7b5" stroke-width="1.600"/></svg><svg class="abs" style="left:88px;top:21.5px" width="11" height="15" viewBox="0 0 384 512" fill="#769f58" preserveAspectRatio="none"><path fill-rule="evenodd" d="M377 105L279.100 7c-4.500-4.500-10.600-7-17-7H256v128h128v-6.100c0-6.300-2.500-12.400-7-16.900zM224 136V0H24C10.700 0 0 10.700 0 24v464c0 13.300 10.700 24 24 24h336c13.300 0 24-10.700 24-24V160H248c-13.200 0-24-10.800-24-24zM64 72c0-4.420 3.580-8 8-8h80c4.420 0 8 3.580 8 8v16c0 4.420-3.580 8-8 8H72c-4.420 0-8-3.580-8-8V72zm0 80v-16c0-4.420 3.580-8 8-8h80c4.420 0 8 3.580 8 8v16c0 4.420-3.580 8-8 8H72c-4.420 0-8-3.580-8-8zm144 263.880V440c0 4.420-3.580 8-8 8h-16c-4.420 0-8-3.580-8-8v-24.290c-11.290-.580-22.270-4.520-31.370-11.350-3.900-2.930-4.100-8.770-.570-12.140l11.750-11.210c2.770-2.640 6.890-2.760 10.130-.730 3.870 2.420 8.260 3.720 12.820 3.720h28.110c6.500 0 11.800-5.920 11.800-13.190 0-5.950-3.610-11.190-8.770-12.730l-45-13.500c-18.590-5.580-31.580-23.420-31.580-43.390 0-24.520 19.050-44.440 42.670-45.070V232c0-4.420 3.580-8 8-8h16c4.420 0 8 3.580 8 8v24.290c11.290.580 22.270 4.510 31.370 11.350 3.900 2.930 4.100 8.770.570 12.140l-11.750 11.210c-2.770 2.640-6.890 2.760-10.130.730-3.870-2.430-8.260-3.720-12.820-3.720h-28.110c-6.500 0-11.800 5.920-11.800 13.190 0 5.950 3.610 11.190 8.770 12.730l45 13.500c18.590 5.580 31.580 23.420 31.580 43.390 0 24.530-19.050 44.440-42.670 45.070z"/></svg><div class="t lnk" style="left:108px;top:19px">INV-69AD3FFAAB337</div><div class="ibtn"><svg class="abs" style="left:13.9px;top:7.8px" width="15" height="15" viewBox="0 0 512 512" fill="#efeaf1" preserveAspectRatio="none"><path d="M216 0h80c13.300 0 24 10.700 24 24v168h87.700c17.800 0 26.700 21.500 14.100 34.100L269.700 378.300c-7.500 7.500-19.800 7.500-27.300 0L90.100 226.100c-12.600-12.600-3.700-34.100 14.100-34.100H192V24c0-13.300 10.700-24 24-24zm296 376v112c0 13.300-10.700 24-24 24H24c-13.300 0-24-10.700-24-24V376c0-13.300 10.700-24 24-24h146.700l49 49c20.100 20.100 52.500 20.100 72.600 0l49-49H488c13.300 0 24 10.700 24 24zm-124 88c0-11-9-20-20-20s-20 9-20 20 9 20 20 20 20-9 20-20zm64 0c0-11-9-20-20-20s-20 9-20 20 9 20 20 20 20-9 20-20z"/></svg><span style="position:absolute;left:33px">IMPORT</span></div><div class="t" style="left:446px;top:19px">Testowa Firma</div><div class="t" style="left:668px;top:19px">6669666923</div><div class="badge b-new" style="top:17.750px;height:23px;line-height:23px">New</div><div class="t" style="left:894px;top:19px">03/08/2026</div></div>
<div class="row" style="top:737.0px"><svg class="cb" viewBox="0 0 18 18"><rect x="0.800" y="0.800" width="16.400" height="16.400" rx="3.300" fill="#e8e8e8" stroke="#a7a7b5" stroke-width="1.600"/></svg><svg class="abs" style="left:88px;top:21.5px" width="11" height="15" viewBox="0 0 384 512" fill="#769f58" preserveAspectRatio="none"><path fill-rule="evenodd" d="M377 105L279.100 7c-4.500-4.500-10.600-7-17-7H256v128h128v-6.100c0-6.300-2.500-12.400-7-16.900zM224 136V0H24C10.700 0 0 10.700 0 24v464c0 13.300 10.700 24 24 24h336c13.300 0 24-10.700 24-24V160H248c-13.200 0-24-10.800-24-24zM64 72c0-4.420 3.580-8 8-8h80c4.420 0 8 3.580 8 8v16c0 4.420-3.580 8-8 8H72c-4.420 0-8-3.580-8-8V72zm0 80v-16c0-4.420 3.580-8 8-8h80c4.420 0 8 3.580 8 8v16c0 4.420-3.580 8-8 8H72c-4.420 0-8-3.580-8-8zm144 263.880V440c0 4.420-3.580 8-8 8h-16c-4.420 0-8-3.580-8-8v-24.290c-11.290-.580-22.270-4.520-31.370-11.350-3.900-2.930-4.100-8.770-.570-12.140l11.750-11.210c2.770-2.640 6.890-2.760 10.130-.730 3.870 2.420 8.260 3.720 12.820 3.720h28.110c6.500 0 11.800-5.920 11.800-13.190 0-5.950-3.610-11.190-8.770-12.730l-45-13.500c-18.590-5.580-31.580-23.420-31.580-43.390 0-24.520 19.050-44.440 42.670-45.070V232c0-4.420 3.580-8 8-8h16c4.420 0 8 3.580 8 8v24.290c11.290.580 22.270 4.510 31.370 11.350 3.900 2.930 4.100 8.770.570 12.140l-11.750 11.210c-2.770 2.640-6.890 2.760-10.130.730-3.870-2.430-8.260-3.720-12.820-3.720h-28.110c-6.500 0-11.800 5.920-11.800 13.190 0 5.950 3.610 11.190 8.770 12.730l45 13.500c18.590 5.580 31.580 23.420 31.580 43.390 0 24.530-19.050 44.440-42.670 45.070z"/></svg><div class="t lnk" style="left:108px;top:19px">INV-69AD3FFAAB337</div><div class="ibtn"><svg class="abs" style="left:13.9px;top:7.8px" width="15" height="15" viewBox="0 0 512 512" fill="#efeaf1" preserveAspectRatio="none"><path d="M216 0h80c13.300 0 24 10.700 24 24v168h87.700c17.800 0 26.700 21.500 14.100 34.100L269.700 378.300c-7.500 7.500-19.800 7.500-27.300 0L90.100 226.100c-12.600-12.600-3.700-34.100 14.100-34.100H192V24c0-13.300 10.700-24 24-24zm296 376v112c0 13.300-10.700 24-24 24H24c-13.300 0-24-10.700-24-24V376c0-13.300 10.700-24 24-24h146.700l49 49c20.100 20.100 52.500 20.100 72.600 0l49-49H488c13.300 0 24 10.700 24 24zm-124 88c0-11-9-20-20-20s-20 9-20 20 9 20 20 20 20-9 20-20zm64 0c0-11-9-20-20-20s-20 9-20 20 9 20 20 20 20-9 20-20z"/></svg><span style="position:absolute;left:33px">IMPORT</span></div><div class="t" style="left:446px;top:19px">Testowa Firma</div><div class="t" style="left:668px;top:19px">6669666923</div><div class="badge b-new" style="top:17.750px;height:23px;line-height:23px">New</div><div class="t" style="left:894px;top:19px">03/08/2026</div></div>
<div class="row" style="top:796.5px"><svg class="cb" viewBox="0 0 18 18"><rect x="0.800" y="0.800" width="16.400" height="16.400" rx="3.300" fill="#e8e8e8" stroke="#a7a7b5" stroke-width="1.600"/></svg><svg class="abs" style="left:88px;top:21.5px" width="11" height="15" viewBox="0 0 384 512" fill="#769f58" preserveAspectRatio="none"><path fill-rule="evenodd" d="M377 105L279.100 7c-4.500-4.500-10.600-7-17-7H256v128h128v-6.100c0-6.300-2.500-12.400-7-16.900zM224 136V0H24C10.700 0 0 10.700 0 24v464c0 13.300 10.700 24 24 24h336c13.300 0 24-10.700 24-24V160H248c-13.200 0-24-10.800-24-24zM64 72c0-4.420 3.580-8 8-8h80c4.420 0 8 3.580 8 8v16c0 4.420-3.580 8-8 8H72c-4.420 0-8-3.580-8-8V72zm0 80v-16c0-4.420 3.580-8 8-8h80c4.420 0 8 3.580 8 8v16c0 4.420-3.580 8-8 8H72c-4.420 0-8-3.580-8-8zm144 263.880V440c0 4.420-3.580 8-8 8h-16c-4.420 0-8-3.580-8-8v-24.290c-11.290-.580-22.270-4.520-31.370-11.350-3.900-2.930-4.100-8.770-.570-12.140l11.750-11.210c2.770-2.640 6.890-2.760 10.130-.730 3.870 2.420 8.260 3.720 12.820 3.720h28.110c6.500 0 11.800-5.920 11.800-13.190 0-5.950-3.610-11.190-8.770-12.730l-45-13.500c-18.590-5.580-31.580-23.420-31.580-43.390 0-24.520 19.050-44.440 42.670-45.070V232c0-4.420 3.580-8 8-8h16c4.420 0 8 3.580 8 8v24.290c11.290.580 22.270 4.510 31.370 11.350 3.900 2.930 4.100 8.770.570 12.140l-11.750 11.210c-2.770 2.640-6.890 2.760-10.130.730-3.870-2.430-8.260-3.720-12.820-3.720h-28.110c-6.500 0-11.800 5.920-11.800 13.190 0 5.950 3.610 11.190 8.770 12.730l45 13.500c18.590 5.580 31.580 23.420 31.580 43.390 0 24.530-19.050 44.440-42.670 45.070z"/></svg><div class="t lnk" style="left:108px;top:19px">INV-69AD3FFAAB337</div><div class="ibtn"><svg class="abs" style="left:13.9px;top:7.8px" width="15" height="15" viewBox="0 0 512 512" fill="#efeaf1" preserveAspectRatio="none"><path d="M216 0h80c13.300 0 24 10.700 24 24v168h87.700c17.800 0 26.700 21.500 14.100 34.100L269.700 378.300c-7.500 7.500-19.800 7.500-27.300 0L90.100 226.100c-12.600-12.600-3.700-34.100 14.100-34.100H192V24c0-13.300 10.700-24 24-24zm296 376v112c0 13.300-10.700 24-24 24H24c-13.300 0-24-10.700-24-24V376c0-13.300 10.700-24 24-24h146.700l49 49c20.100 20.100 52.500 20.100 72.600 0l49-49H488c13.300 0 24 10.700 24 24zm-124 88c0-11-9-20-20-20s-20 9-20 20 9 20 20 20 20-9 20-20zm64 0c0-11-9-20-20-20s-20 9-20 20 9 20 20 20 20-9 20-20z"/></svg><span style="position:absolute;left:33px">IMPORT</span></div><div class="t" style="left:446px;top:19px">Testowa Firma</div><div class="t" style="left:668px;top:19px">6669666923</div><div class="badge b-new" style="top:17.750px;height:23px;line-height:23px">New</div><div class="t" style="left:894px;top:19px">03/08/2026</div></div>
<div class="row" style="top:856.0px"><svg class="cb" viewBox="0 0 18 18"><rect x="0.800" y="0.800" width="16.400" height="16.400" rx="3.300" fill="#e8e8e8" stroke="#a7a7b5" stroke-width="1.600"/></svg><svg class="abs" style="left:88px;top:21.5px" width="11" height="15" viewBox="0 0 384 512" fill="#769f58" preserveAspectRatio="none"><path fill-rule="evenodd" d="M377 105L279.100 7c-4.500-4.500-10.600-7-17-7H256v128h128v-6.100c0-6.300-2.500-12.400-7-16.900zM224 136V0H24C10.700 0 0 10.700 0 24v464c0 13.300 10.700 24 24 24h336c13.300 0 24-10.700 24-24V160H248c-13.200 0-24-10.800-24-24zM64 72c0-4.420 3.580-8 8-8h80c4.420 0 8 3.580 8 8v16c0 4.420-3.580 8-8 8H72c-4.420 0-8-3.580-8-8V72zm0 80v-16c0-4.420 3.580-8 8-8h80c4.420 0 8 3.580 8 8v16c0 4.420-3.580 8-8 8H72c-4.420 0-8-3.580-8-8zm144 263.880V440c0 4.420-3.580 8-8 8h-16c-4.420 0-8-3.580-8-8v-24.290c-11.290-.580-22.270-4.520-31.370-11.350-3.900-2.930-4.100-8.770-.570-12.140l11.750-11.210c2.770-2.640 6.890-2.760 10.130-.730 3.870 2.420 8.260 3.720 12.820 3.720h28.110c6.500 0 11.800-5.920 11.800-13.190 0-5.950-3.610-11.190-8.770-12.730l-45-13.500c-18.590-5.580-31.580-23.420-31.580-43.390 0-24.520 19.050-44.440 42.670-45.070V232c0-4.420 3.580-8 8-8h16c4.420 0 8 3.580 8 8v24.290c11.290.580 22.270 4.510 31.370 11.350 3.900 2.930 4.100 8.770.570 12.140l-11.750 11.210c-2.770 2.640-6.890 2.760-10.130.730-3.870-2.430-8.260-3.720-12.820-3.720h-28.110c-6.500 0-11.800 5.920-11.800 13.190 0 5.950 3.610 11.190 8.770 12.730l45 13.500c18.590 5.580 31.580 23.420 31.580 43.390 0 24.530-19.050 44.440-42.670 45.070z"/></svg><div class="t lnk" style="left:108px;top:19px">INV-69AD3FFAAB337</div><div class="ibtn"><svg class="abs" style="left:13.9px;top:7.8px" width="15" height="15" viewBox="0 0 512 512" fill="#efeaf1" preserveAspectRatio="none"><path d="M216 0h80c13.300 0 24 10.700 24 24v168h87.700c17.800 0 26.700 21.500 14.100 34.100L269.700 378.300c-7.500 7.500-19.800 7.500-27.300 0L90.100 226.100c-12.600-12.600-3.700-34.100 14.100-34.100H192V24c0-13.300 10.700-24 24-24zm296 376v112c0 13.300-10.700 24-24 24H24c-13.300 0-24-10.700-24-24V376c0-13.300 10.700-24 24-24h146.700l49 49c20.100 20.100 52.500 20.100 72.600 0l49-49H488c13.300 0 24 10.700 24 24zm-124 88c0-11-9-20-20-20s-20 9-20 20 9 20 20 20 20-9 20-20zm64 0c0-11-9-20-20-20s-20 9-20 20 9 20 20 20 20-9 20-20z"/></svg><span style="position:absolute;left:33px">IMPORT</span></div><div class="t" style="left:446px;top:19px">Testowa Firma</div><div class="t" style="left:668px;top:19px">6669666923</div><div class="badge b-new" style="top:17.750px;height:23px;line-height:23px">New</div><div class="t" style="left:894px;top:19px">03/08/2026</div></div>
<div class="row" style="top:915.5px"><svg class="cb" viewBox="0 0 18 18"><rect x="0.800" y="0.800" width="16.400" height="16.400" rx="3.300" fill="#e8e8e8" stroke="#a7a7b5" stroke-width="1.600"/></svg><svg class="abs" style="left:88px;top:21.5px" width="11" height="15" viewBox="0 0 384 512" fill="#769f58" preserveAspectRatio="none"><path fill-rule="evenodd" d="M377 105L279.100 7c-4.500-4.500-10.600-7-17-7H256v128h128v-6.100c0-6.300-2.500-12.400-7-16.900zM224 136V0H24C10.700 0 0 10.700 0 24v464c0 13.300 10.700 24 24 24h336c13.300 0 24-10.700 24-24V160H248c-13.200 0-24-10.800-24-24zM64 72c0-4.420 3.580-8 8-8h80c4.420 0 8 3.580 8 8v16c0 4.420-3.580 8-8 8H72c-4.420 0-8-3.580-8-8V72zm0 80v-16c0-4.420 3.580-8 8-8h80c4.420 0 8 3.580 8 8v16c0 4.420-3.580 8-8 8H72c-4.420 0-8-3.580-8-8zm144 263.880V440c0 4.420-3.580 8-8 8h-16c-4.420 0-8-3.580-8-8v-24.290c-11.290-.580-22.270-4.520-31.370-11.350-3.900-2.930-4.100-8.770-.570-12.140l11.750-11.210c2.770-2.640 6.890-2.760 10.130-.730 3.870 2.420 8.260 3.720 12.820 3.720h28.110c6.500 0 11.800-5.920 11.800-13.190 0-5.950-3.610-11.190-8.770-12.730l-45-13.500c-18.590-5.580-31.580-23.420-31.580-43.390 0-24.520 19.050-44.440 42.670-45.070V232c0-4.420 3.580-8 8-8h16c4.420 0 8 3.580 8 8v24.290c11.290.580 22.270 4.510 31.370 11.350 3.900 2.930 4.100 8.770.570 12.140l-11.750 11.210c-2.770 2.640-6.890 2.760-10.130.730-3.870-2.430-8.260-3.720-12.820-3.720h-28.110c-6.500 0-11.800 5.920-11.800 13.190 0 5.950 3.610 11.190 8.770 12.730l45 13.500c18.590 5.580 31.580 23.420 31.580 43.390 0 24.530-19.050 44.440-42.670 45.070z"/></svg><div class="t lnk" style="left:108px;top:19px">INV-69AD3FD5E5063</div><div class="ibtn"><svg class="abs" style="left:13.9px;top:7.8px" width="15" height="15" viewBox="0 0 512 512" fill="#efeaf1" preserveAspectRatio="none"><path d="M216 0h80c13.300 0 24 10.700 24 24v168h87.700c17.800 0 26.700 21.500 14.100 34.100L269.700 378.300c-7.500 7.500-19.800 7.500-27.300 0L90.100 226.100c-12.600-12.600-3.700-34.100 14.100-34.100H192V24c0-13.300 10.700-24 24-24zm296 376v112c0 13.300-10.700 24-24 24H24c-13.300 0-24-10.700-24-24V376c0-13.300 10.700-24 24-24h146.700l49 49c20.100 20.100 52.500 20.100 72.600 0l49-49H488c13.300 0 24 10.700 24 24zm-124 88c0-11-9-20-20-20s-20 9-20 20 9 20 20 20 20-9 20-20zm64 0c0-11-9-20-20-20s-20 9-20 20 9 20 20 20 20-9 20-20z"/></svg><span style="position:absolute;left:33px">IMPORT</span></div><div class="t" style="left:446px;top:19px">Testowa Firma</div><div class="t" style="left:668px;top:19px">6669666923</div><div class="badge b-new" style="top:17.750px;height:23px;line-height:23px">New</div><div class="t" style="left:894px;top:19px">03/08/2026</div></div>
<div class="row" style="top:975.0px"><svg class="cb" viewBox="0 0 18 18"><rect x="0.800" y="0.800" width="16.400" height="16.400" rx="3.300" fill="#e8e8e8" stroke="#a7a7b5" stroke-width="1.600"/></svg><svg class="abs" style="left:88px;top:21.5px" width="11" height="15" viewBox="0 0 384 512" fill="#769f58" preserveAspectRatio="none"><path fill-rule="evenodd" d="M377 105L279.100 7c-4.500-4.500-10.600-7-17-7H256v128h128v-6.100c0-6.300-2.500-12.400-7-16.900zM224 136V0H24C10.700 0 0 10.700 0 24v464c0 13.300 10.700 24 24 24h336c13.300 0 24-10.700 24-24V160H248c-13.200 0-24-10.800-24-24zM64 72c0-4.420 3.580-8 8-8h80c4.420 0 8 3.580 8 8v16c0 4.420-3.580 8-8 8H72c-4.420 0-8-3.580-8-8V72zm0 80v-16c0-4.420 3.580-8 8-8h80c4.420 0 8 3.580 8 8v16c0 4.420-3.580 8-8 8H72c-4.420 0-8-3.580-8-8zm144 263.880V440c0 4.420-3.580 8-8 8h-16c-4.420 0-8-3.580-8-8v-24.290c-11.290-.580-22.270-4.520-31.370-11.350-3.900-2.930-4.100-8.770-.570-12.140l11.750-11.210c2.770-2.640 6.890-2.760 10.130-.730 3.870 2.420 8.260 3.720 12.820 3.720h28.110c6.500 0 11.800-5.920 11.800-13.190 0-5.950-3.610-11.190-8.770-12.730l-45-13.500c-18.590-5.580-31.580-23.420-31.580-43.390 0-24.520 19.050-44.440 42.670-45.070V232c0-4.420 3.580-8 8-8h16c4.420 0 8 3.580 8 8v24.290c11.290.580 22.270 4.510 31.370 11.350 3.900 2.930 4.100 8.770.570 12.140l-11.750 11.210c-2.770 2.640-6.890 2.760-10.130.730-3.870-2.430-8.260-3.720-12.820-3.720h-28.110c-6.500 0-11.800 5.920-11.800 13.190 0 5.950 3.610 11.190 8.770 12.730l45 13.500c18.590 5.580 31.580 23.420 31.580 43.390 0 24.530-19.050 44.440-42.670 45.070z"/></svg><div class="t lnk" style="left:108px;top:19px">INV-69AD3FD5E5064</div><div class="ibtn"><svg class="abs" style="left:13.9px;top:7.8px" width="15" height="15" viewBox="0 0 512 512" fill="#efeaf1" preserveAspectRatio="none"><path d="M216 0h80c13.300 0 24 10.700 24 24v168h87.700c17.800 0 26.700 21.500 14.100 34.100L269.700 378.300c-7.500 7.500-19.800 7.500-27.300 0L90.100 226.100c-12.600-12.600-3.700-34.100 14.100-34.100H192V24c0-13.300 10.700-24 24-24zm296 376v112c0 13.300-10.700 24-24 24H24c-13.300 0-24-10.700-24-24V376c0-13.300 10.700-24 24-24h146.700l49 49c20.100 20.100 52.500 20.100 72.600 0l49-49H488c13.300 0 24 10.700 24 24zm-124 88c0-11-9-20-20-20s-20 9-20 20 9 20 20 20 20-9 20-20zm64 0c0-11-9-20-20-20s-20 9-20 20 9 20 20 20 20-9 20-20z"/></svg><span style="position:absolute;left:33px">IMPORT</span></div><div class="t" style="left:446px;top:19px">Testowa Firma</div><div class="t" style="left:668px;top:19px">6669666923</div><div class="badge b-new" style="top:17.750px;height:23px;line-height:23px">New</div><div class="t" style="left:894px;top:19px">03/08/2026</div></div>
</div>
<div id="modal">
<div id="mbg"></div>
<div class="abs" style="left:5px;top:5px;width:900px;height:40px;border-bottom:1px solid #adadad;border-radius:0 0 2px 2px"></div>
<div class="t " style="left:20.00px;top:13.75px;font-weight:bold;color:#333">Batch Import Preview</div>
<div class="abs" style="left:875px;top:10px;width:26px;height:26px;border:1px solid #c4c4c4;border-radius:3px;background:#f5f5f5"><svg class="abs" style="left:6px;top:6px" width="12" height="12" viewBox="0 0 12 12"><path d="M3.450 3.350L9.650 9.550M9.650 3.350L3.450 9.550" fill="none" stroke="#707070" stroke-width="2.900" stroke-linecap="round"/></svg></div>
<div class="abs" id="oc" style="left:20px;top:79px;width:870px;height:415px;border:1px solid #d8d8d8;border-radius:9px;overflow:hidden;background:#fefefe">
<div class="abs" style="left:0;top:0;width:100%;height:45px;background:#f0f0f0"></div>
<div class="abs" style="left:0;top:45px;width:100%;height:62px;background:#fafafa;border-bottom:1px solid #e9e9e9"></div>
</div>
<div class="ck" style="left:37px;top:93px"><svg width="18" height="18" viewBox="0 0 18 18"><path d="M4.200 9.300L7.600 12.600L13.800 5.400" fill="none" stroke="#fff" stroke-width="2.500" stroke-linecap="round" stroke-linejoin="round"/></svg></div>
<div class="ck" style="left:37px;top:146px"><svg width="18" height="18" viewBox="0 0 18 18"><path d="M4.200 9.300L7.600 12.600L13.800 5.400" fill="none" stroke="#fff" stroke-width="2.500" stroke-linecap="round" stroke-linejoin="round"/></svg></div>
<div class="t mh" style="left:85.00px;top:92.15px;">Invoice</div>
<div class="t mh" style="left:358.00px;top:92.15px;">Amount</div>
<div class="t mh" style="left:512.40px;top:92.15px;">Vendor</div>
<div class="t mh" style="left:705.40px;top:92.15px;">Products</div>
<div class="t " style="left:85.00px;top:133.15px;color:#111">INV-69AD3FFAAB337</div>
<div class="t g" style="left:85.00px;top:156.15px;">03/08/2026</div>
<div class="t r " style="right:419.20px;top:145.15px;color:#111">2,050.99 zł</div>
<div class="mb" style="left:513px;top:136px;width:60px;height:18px;line-height:18px;background:#27a57e">Matched</div>
<div class="t " style="left:512.40px;top:156.15px;color:#111">Testowa Firma</div>
<div class="mb" style="left:706px;top:147px;width:80px;height:19px;line-height:18px;background:#bd9529">0/3 matched</div>
<svg class="abs" style="left:789px;top:150px" width="16" height="12" viewBox="0 0 16 12"><path d="M2.150 8.500L7.450 3.300L12.750 8.500" fill="none" stroke="#0b0b66" stroke-width="2.200" stroke-linecap="butt" stroke-linejoin="miter"/></svg>
<div class="abs" id="nt" style="left:85px;top:195px;width:794px;height:270px;border:1px solid #d8d8d8;border-radius:9px;overflow:hidden;background:#fefefe">
<div class="abs" style="left:0;top:0;width:100%;height:58px;background:#f0f0f0"></div>
<div class="nrow" style="top:58px;height:63px;background:#fefefe"></div>
<div class="abs" style="left:0;top:121px;width:100%;height:62px;background:#fafafa"></div>
<div class="nrow" style="top:112px;height:71px;background:transparent"></div>
</div>
<div class="t mh" style="left:97.80px;top:213.65px;">#</div>
<div class="t mh" style="left:128.00px;top:213.65px;">Description</div>
<div class="t mh" style="left:327.00px;top:213.65px;">Ref.</div>
<div class="t mh" style="left:376.00px;top:213.65px;">Qty</div>
<div class="t r mh" style="right:430.00px;top:202.65px;">U.P.</div>
<div class="t r mh" style="right:430.00px;top:225.65px;">(net)</div>
<div class="t r mh" style="right:352.00px;top:202.65px;">Sales</div>
<div class="t r mh" style="right:352.00px;top:225.65px;">tax</div>
<div class="t r mh" style="right:240.20px;top:202.65px;">Total (excl.</div>
<div class="t r mh" style="right:240.20px;top:225.65px;">tax)</div>
<div class="t mh" style="left:692.00px;top:213.65px;">Product</div>
<div class="t " style="left:97.70px;top:273.85px;">1</div>
<div class="t " style="left:128.00px;top:273.85px;">lodówka Zimnotech mk1</div>
<div class="t " style="left:327.00px;top:273.85px;">–</div>
<div class="t r " style="right:511.50px;top:273.85px;">1</div>
<div class="t r " style="right:430.00px;top:273.85px;">1626.01</div>
<div class="t r " style="right:352.00px;top:273.85px;">23%</div>
<div class="t r " style="right:240.20px;top:273.85px;">1626.01</div>
<div class="mb wc" style="left:692px;top:265px">Will create</div>
<div class="t g" style="left:692.00px;top:284.65px;">lodówka Zimnotech mk1</div>
<div class="t " style="left:97.70px;top:335.95px;">2</div>
<div class="t " style="left:128.00px;top:335.95px;">wniesienie sprzętu</div>
<div class="t " style="left:327.00px;top:335.95px;">–</div>
<div class="t r " style="right:511.50px;top:335.95px;">1</div>
<div class="t r " style="right:430.00px;top:335.95px;">40.65</div>
<div class="t r " style="right:352.00px;top:335.95px;">23%</div>
<div class="t r " style="right:240.20px;top:335.95px;">40.65</div>
<div class="mb wc" style="left:692px;top:328px">Will create</div>
<div class="t g" style="left:692.00px;top:348.25px;">wniesienie sprzętu</div>
<div class="t " style="left:97.70px;top:411.15px;">3</div>
<div class="t " style="left:128.00px;top:398.55px;">promocja lodówka pełna</div>
<div class="t " style="left:128.00px;top:421.75px;">mleka</div>
<div class="t " style="left:327.00px;top:411.15px;">–</div>
<div class="t r " style="right:511.50px;top:411.15px;">1</div>
<div class="t r " style="right:430.00px;top:411.15px;">0.95</div>
<div class="t r " style="right:352.00px;top:411.15px;">5%</div>
<div class="t r " style="right:240.20px;top:411.15px;">0.95</div>
<div class="mb wc" style="left:692px;top:391px">Will create</div>
<div class="t g" style="left:692.00px;top:410.95px;">promocja lodówka pełna</div>
<div class="t g" style="left:692.00px;top:432.95px;">mleka</div>
<div class="ck" style="left:19px;top:524px"><svg width="18" height="18" viewBox="0 0 18 18"><path d="M4.200 9.300L7.600 12.600L13.800 5.400" fill="none" stroke="#fff" stroke-width="2.500" stroke-linecap="round" stroke-linejoin="round"/></svg></div>
<div class="ck" style="left:19px;top:545px"><svg width="18" height="18" viewBox="0 0 18 18"><path d="M4.200 9.300L7.600 12.600L13.800 5.400" fill="none" stroke="#fff" stroke-width="2.500" stroke-linecap="round" stroke-linejoin="round"/></svg></div>
<div class="t " style="left:44.20px;top:522.65px;color:#111">Auto-create suppliers when no match found</div>
<div class="t " style="left:44.20px;top:544.25px;color:#111">Auto-create products when no match found</div>
<div class="abs" style="left:5px;top:582px;width:900px;height:1px;background:#adadad"></div>
<div class="abs" style="left:647px;top:598px;width:162px;height:38px;border-radius:3px;background:#9a72a6;color:#f7f1f9;font-weight:bold;line-height:38px;text-align:center">IMPORT SELECTED</div>
<div class="abs" style="left:815.4px;top:601px;width:68.500px;height:31.500px;border-radius:3px;background:#f5f5f5;border:1px solid #c8c8c8;color:#444;line-height:31.500px;text-align:center">Close</div>
</div>
</div>
</body>
</html>
